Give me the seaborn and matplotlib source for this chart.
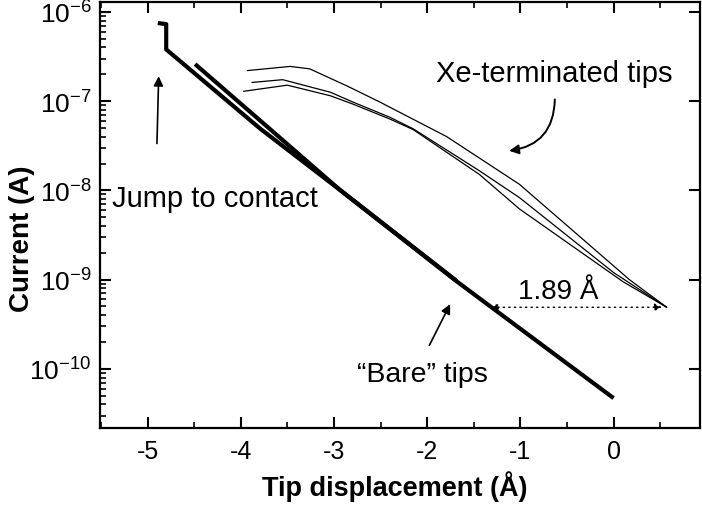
import numpy as np
import pandas as pd
import matplotlib
matplotlib.use("Agg")
import matplotlib.pyplot as plt
import seaborn as sns

# Tip displacement (Å) and tunnelling current (A)
bare1_x = [-4.89, -4.80, -4.80, -3.79, -2.94, -1.68, 0.00]
bare1_i = [7.5e-7, 7.3e-7, 3.8e-7, 4.9e-8, 1.02e-8, 9.5e-10, 4.7e-11]

bare2_x = [-4.49, -3.69, -2.94, -1.68]
bare2_i = [2.6e-7, 4.9e-8, 1.02e-8, 9.6e-10]

xe_top_x = [-3.93, -3.47, -3.26, -2.86, -2.51, -1.79, -1.01, 0.17, 0.57]
xe_top_i = [2.2e-7, 2.45e-7, 2.3e-7, 1.48e-7, 9.8e-8, 4.0e-8, 1.17e-8, 1.0e-9, 4.9e-10]

xe_mid_x = [-3.88, -3.55, -3.04, -2.80, -2.40, -2.15, -1.44, -1.01, 0.00, 0.57]
xe_mid_i = [1.62e-7, 1.74e-7, 1.26e-7, 9.8e-8, 6.6e-8, 4.9e-8, 1.66e-8, 8.3e-9, 1.2e-9, 4.9e-10]

xe_low_x = [-3.97, -3.50, -3.04, -2.80, -2.40, -2.15, -1.44, -1.01, 0.10, 0.57]
xe_low_i = [1.29e-7, 1.51e-7, 1.15e-7, 9.3e-8, 6.3e-8, 4.8e-8, 1.51e-8, 6.2e-9, 9.5e-10, 4.9e-10]

shift_A = 1.89          # displacement between bare and Xe curves
xe_end = 0.57           # where the Xe curves meet
shift_level = 4.9e-10   # current at which the shift is measured

x_ticks = [-5, -4, -3, -2, -1, 0]
y_ticks = [1e-10, 1e-9, 1e-8, 1e-7, 1e-6]
y_tick_labels = [r"$10^{-10}$", r"$10^{-9}$", r"$10^{-8}$", r"$10^{-7}$", r"$10^{-6}$"]

sns.set_theme(style="ticks", rc={"text.color": "black", "axes.labelcolor": "black",
                                 "xtick.color": "black", "ytick.color": "black",
                                 "axes.edgecolor": "black"})
plt.rcParams["font.family"] = ["Liberation Sans", "DejaVu Sans"]
plt.rcParams["mathtext.default"] = "regular"

frames = []
for name, xs, ys in [("bare1", bare1_x, bare1_i), ("bare2", bare2_x, bare2_i),
                     ("xe_top", xe_top_x, xe_top_i), ("xe_mid", xe_mid_x, xe_mid_i),
                     ("xe_low", xe_low_x, xe_low_i)]:
    frames.append(pd.DataFrame({"trace": name, "disp": xs, "current": ys}))
df = pd.concat(frames, ignore_index=True)

fig = plt.figure(figsize=(7.02, 5.06), dpi=100)
ax = fig.add_axes([0.1425, 0.152, 0.855, 0.842])

for name in ["xe_top", "xe_mid", "xe_low"]:
    sns.lineplot(data=df[df.trace == name], x="disp", y="current", sort=False,
                 estimator=None, color="black", linewidth=0.9, ax=ax)
for name in ["bare1", "bare2"]:
    sns.lineplot(data=df[df.trace == name], x="disp", y="current", sort=False,
                 estimator=None, color="black", linewidth=3.0, ax=ax,
                 solid_capstyle="butt")

ax.set_yscale("log")
ax.set_xlim(-5.51, 0.93)
ax.set_ylim(2.17e-11, 1.29e-6)
ax.set_xticks(x_ticks)
ax.set_xticklabels([str(t) for t in x_ticks], fontsize=18)
ax.set_xticks(np.arange(-5.5, 1.0, 0.5), minor=True)
ax.set_yticks(y_ticks)
ax.set_yticklabels(y_tick_labels, fontsize=19)

ax.tick_params(which="major", direction="in", length=8, width=1.5,
               top=True, right=True, pad=8)
ax.tick_params(which="minor", direction="in", length=4, width=1.2, top=True)
ax.tick_params(axis="y", which="minor", right=False)
ax.tick_params(axis="y", which="major", pad=6)
for s in ax.spines.values():
    s.set_linewidth(1.6)

ax.set_xlabel("Tip displacement (Å)", fontsize=19.5, fontweight="bold")
ax.set_ylabel("Current (A)", fontsize=20, fontweight="bold")
ax.xaxis.set_label_coords(0.491, -0.098)
ax.yaxis.set_label_coords(-0.108, 0.446)

# annotations
ax.text(-5.38, 10**-8.18, "Jump to contact", fontsize=21, va="baseline", ha="left")
ax.annotate("", xy=(-4.88, 10**-6.69), xytext=(-4.90, 10**-7.506),
            arrowprops=dict(arrowstyle="-|>", color="black", lw=1.2, mutation_scale=14))

ax.text(-1.91, 10**-6.775, "Xe-terminated tips", fontsize=21, va="baseline", ha="left")
ax.annotate("", xy=(-1.15, 10**-7.56), xytext=(-0.63, 10**-6.95),
            arrowprops=dict(arrowstyle="-|>", color="black", lw=1.4, mutation_scale=14,
                            connectionstyle="arc3,rad=-0.45"))

ax.text(-1.03, 10**-9.202, f"{shift_A:.2f} Å", fontsize=20, va="baseline", ha="left")
ax.annotate("", xy=(xe_end - 0.05, shift_level), xytext=(xe_end - shift_A, shift_level),
            arrowprops=dict(arrowstyle="<|-|>", color="black", lw=1.0,
                            linestyle=(0, (1, 3)), mutation_scale=11, shrinkA=0, shrinkB=0))

ax.text(-2.755, 10**-10.135, "\u201cBare\u201d tips", fontsize=20.5, va="baseline", ha="left")
ax.annotate("", xy=(-1.74, 10**-9.247), xytext=(-1.99, 10**-9.764),
            arrowprops=dict(arrowstyle="-|>", color="black", lw=1.2, mutation_scale=14))

fig.savefig("out.png", dpi=100)
